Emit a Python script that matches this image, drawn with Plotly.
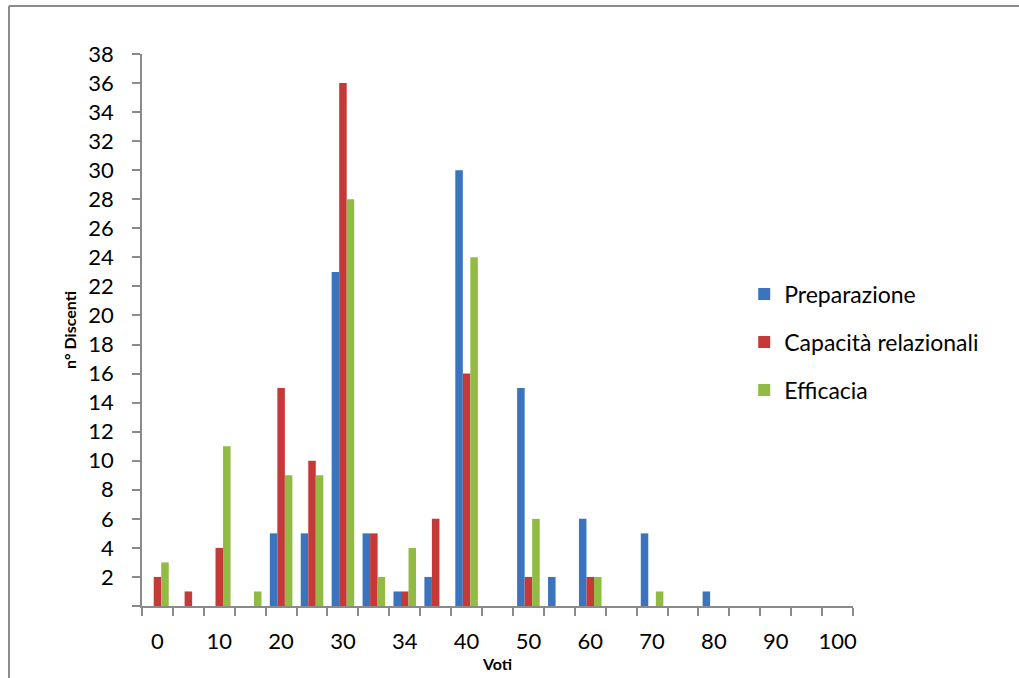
import plotly.graph_objects as go

# Categories (every other label hidden on the axis, as in the reference)
categories = ["0", "5", "10", "15", "20", "25", "30", "32", "34", "36", "40", "45",
              "50", "55", "60", "65", "70", "75", "80", "85", "90", "95", "100"]
shown_labels = ["0", "10", "20", "30", "34", "40", "50", "60", "70", "80", "90", "100"]

preparazione = [0, 0, 0, 0, 5, 5, 23, 5, 1, 2, 30, 0, 15, 2, 6, 0, 5, 0, 1, 0, 0, 0, 0]
capacita     = [2, 1, 4, 0, 15, 10, 36, 5, 1, 6, 16, 0, 2, 0, 2, 0, 0, 0, 0, 0, 0, 0, 0]
efficacia    = [3, 0, 11, 1, 9, 9, 28, 2, 4, 0, 24, 0, 6, 0, 2, 0, 1, 0, 0, 0, 0, 0, 0]

series_names = ["Preparazione", "Capacità relazionali", "Efficacia"]
series_vals = [preparazione, capacita, efficacia]
colors = ["#3a74bf", "#c53a39", "#92bb44"]

y_ticks = list(range(0, 39, 2))
y_ticktext = ["" if v == 0 else str(v) for v in y_ticks]

FONT = "Lato"
AX = "#8a8a8a"

fig = go.Figure()
for i, (name, vals, col) in enumerate(zip(series_names, series_vals, colors)):
    fig.add_trace(go.Bar(
        x=categories, y=vals, name=name,
        marker=dict(color=col, line=dict(width=0)),
        legendgroup=f"g{i}",
    ))

fig.update_layout(
    width=1019, height=678,
    margin=dict(l=142, r=166, t=54, b=72, autoexpand=False),
    paper_bgcolor="white", plot_bgcolor="white",
    font=dict(family=FONT, color="#000000", size=22),
    barmode="group", bargap=0.27, bargroupgap=0,
    showlegend=True,
    legend=dict(
        x=0.847, xanchor="left", y=0.478, yanchor="middle",
        font=dict(family=FONT, size=23, color="#000000"),
        tracegroupgap=15, itemwidth=30,
        bgcolor="rgba(0,0,0,0)",
    ),
    xaxis=dict(
        type="category",
        categoryorder="array", categoryarray=categories,
        tickmode="array", tickvals=categories,
        ticktext=[c if c in shown_labels else "" for c in categories],
        tickson="boundaries", tickangle=0,
        ticks="outside", ticklen=8, tickcolor=AX, tickwidth=1.5,
        showline=True, linecolor=AX, linewidth=1.5,
        showgrid=False, zeroline=False,
        tickfont=dict(family=FONT, size=22, color="#000000"),
        ticklabelstandoff=15,
        title=dict(text="<b>Voti</b>", font=dict(family=FONT, size=16, color="#000000"), standoff=6),
        range=[-0.5, 22.5],
        automargin=False,
    ),
    yaxis=dict(
        range=[0, 38],
        tickmode="array", tickvals=y_ticks, ticktext=y_ticktext,
        ticks="outside", ticklen=8, tickcolor=AX, tickwidth=1.5,
        showline=True, linecolor=AX, linewidth=1.5,
        showgrid=False, zeroline=False,
        tickfont=dict(family=FONT, size=22, color="#000000"),
        ticklabelstandoff=14,
        title=dict(text="<b>n° Discenti</b>", font=dict(family=FONT, size=16, color="#000000"), standoff=8),
        automargin=False,
    ),
)

# Outer chart frame (top and left edges visible in the reference)
pw, ph = 1019 - 142 - 166, 678 - 54 - 72
def px_x(p):
    return (p - 142) / pw
def px_y(p):
    return (678 - 72 - p) / ph
fig.add_shape(type="line", xref="paper", yref="paper",
              x0=px_x(9), y0=px_y(690), x1=px_x(9), y1=px_y(6),
              line=dict(color="#8c8c8c", width=2))
fig.add_shape(type="line", xref="paper", yref="paper",
              x0=px_x(9), y0=px_y(6), x1=px_x(1030), y1=px_y(6),
              line=dict(color="#8c8c8c", width=2))

fig.write_html("out.html")
